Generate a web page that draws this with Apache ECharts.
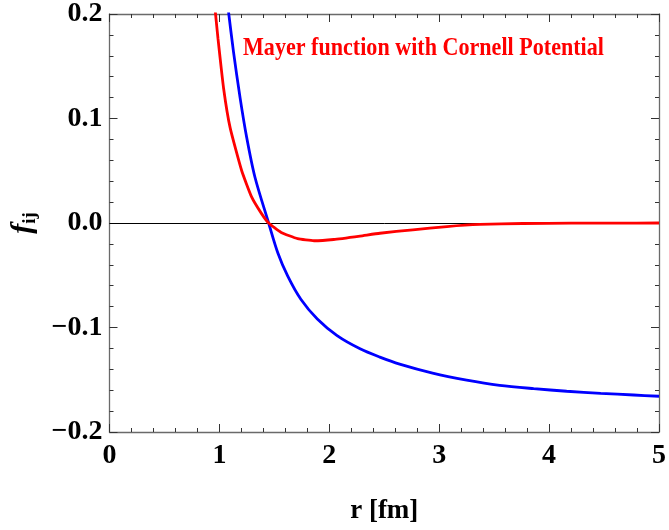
<!DOCTYPE html>
<html>
<head>
<meta charset="utf-8">
<script src="https://cdn.jsdelivr.net/npm/echarts@6/dist/echarts.min.js"></script>
<style>
html,body{margin:0;padding:0;background:#fff;}
#chart{width:669px;height:530px;}
</style>
</head>
<body>
<div id="chart"></div>
<script>
// Red curve: Mayer function with Cornell Potential
var rRed = [0.937, 0.963, 0.987, 1.038, 1.098, 1.203, 1.293, 1.382, 1.448, 1.562, 1.712, 1.861, 2.04, 2.28, 2.46, 2.76, 3.07, 3.37, 3.76, 4.2, 4.6, 5.0];
var fRed = [0.23, 0.202, 0.1766, 0.129, 0.091, 0.050, 0.025, 0.0092, 0.0, -0.0090, -0.0150, -0.0170, -0.0158, -0.0125, -0.0098, -0.0065, -0.0034, -0.0014, -0.0005, -0.0002, -0.0001, 0.0];
// Blue curve
var rBlue = [1.05, 1.083, 1.128, 1.188, 1.248, 1.323, 1.448, 1.532, 1.622, 1.741, 1.891, 2.071, 2.28, 2.46, 2.64, 2.94, 3.25, 3.55, 3.86, 4.16, 4.47, 4.77, 5.0];
var fBlue = [0.23, 0.202, 0.164, 0.120, 0.082, 0.044, 0.0, -0.0287, -0.0509, -0.073, -0.0919, -0.1078, -0.1204, -0.1283, -0.1350, -0.1436, -0.1503, -0.1553, -0.1585, -0.1610, -0.1630, -0.1646, -0.1658];
// Axes
var xTicks = [0, 1, 2, 3, 4, 5];
var yTicks = [-0.2, -0.1, 0.0, 0.1, 0.2];
var xTitle = 'r [fm]';
var annotation = 'Mayer function with Cornell Potential';

function zip(a, b) { return a.map(function (v, i) { return [v, b[i]]; }); }
function fmtY(v) {
  var s = (Math.abs(v) < 1e-9 ? 0 : v).toFixed(1);
  return s.replace('-', '\u2212');
}

var FONT = 'Liberation Serif';
var frameColor = '#6a6a6a';
var tickColor = '#333';

function baseX(pos, labels) {
  return {
    type: 'value', position: pos, min: xTicks[0], max: xTicks[xTicks.length - 1], interval: 1,
    axisLine: { show: true, onZero: false, lineStyle: { color: frameColor, width: 1.3 } },
    axisTick: { show: true, inside: true, length: 8, lineStyle: { color: tickColor, width: 1 } },
    minorTick: { show: true, splitNumber: 5, length: 4, lineStyle: { color: tickColor, width: 1 } },
    splitLine: { show: false },
    axisLabel: labels ? { show: true, margin: 10, fontFamily: FONT, fontWeight: 'bold', fontSize: 28, color: '#000',
      formatter: function (v) { return String(Math.round(v)); } } : { show: false }
  };
}
function baseY(pos, labels) {
  return {
    type: 'value', position: pos, min: yTicks[0], max: yTicks[yTicks.length - 1], interval: 0.1,
    axisLine: { show: true, onZero: false, lineStyle: { color: frameColor, width: 1.3 } },
    axisTick: { show: true, inside: true, length: 8, lineStyle: { color: tickColor, width: 1 } },
    minorTick: { show: true, splitNumber: 5, length: 4, lineStyle: { color: tickColor, width: 1 } },
    splitLine: { show: false },
    axisLabel: labels ? { show: true, margin: 7, fontFamily: FONT, fontWeight: 'bold', fontSize: 28, color: '#000',
      formatter: fmtY } : { show: false }
  };
}

var xBottom = baseX('bottom', true);
xBottom.name = xTitle;
xBottom.nameLocation = 'middle';
xBottom.nameGap = 66;
xBottom.nameTextStyle = { fontFamily: FONT, fontWeight: 'bold', fontSize: 27, color: '#000' };

var yLeft = baseY('left', true);
yLeft.name = '{f|f}{s|ij}';
yLeft.nameLocation = 'middle';
yLeft.nameRotate = 90;
yLeft.nameGap = 70;
yLeft.nameTextStyle = {
  rich: {
    f: { fontFamily: FONT, fontStyle: 'italic', fontWeight: 'bold', fontSize: 30, color: '#000' },
    s: { fontFamily: FONT, fontWeight: 'bold', fontSize: 19, color: '#000', verticalAlign: 'bottom', padding: [14, 0, 0, 0] }
  }
};

var chart = echarts.init(document.getElementById('chart'), null, { renderer: 'canvas' });
chart.setOption({
  animation: false,
  backgroundColor: '#fff',
  grid: { left: 106, right: 6, top: 12, bottom: 96, containLabel: false },
  xAxis: [xBottom, baseX('top', false)],
  yAxis: [yLeft, baseY('right', false)],
  graphic: [{
    type: 'text', left: 243, top: 35, scaleX: 0.85,
    style: { text: annotation, fill: '#ff0000', font: 'bold 26px "Liberation Serif"' }
  }],
  series: [
    {
      type: 'line', name: 'blue', xAxisIndex: 0, yAxisIndex: 0,
      data: zip(rBlue, fBlue), showSymbol: false, smooth: 0.3, clip: true,
      lineStyle: { color: '#0000ff', width: 2.8 }, z: 3
    },
    {
      type: 'line', name: 'red', xAxisIndex: 0, yAxisIndex: 0,
      data: zip(rRed, fRed), showSymbol: false, smooth: 0.15, clip: true,
      lineStyle: { color: '#ff0000', width: 2.8 }, z: 4,
      markLine: {
        silent: true, symbol: 'none', label: { show: false },
        lineStyle: { color: '#000', width: 1, type: 'solid' },
        data: [{ yAxis: 0 }], z: 1
      }
    }
  ]
});
</script>
</body>
</html>
